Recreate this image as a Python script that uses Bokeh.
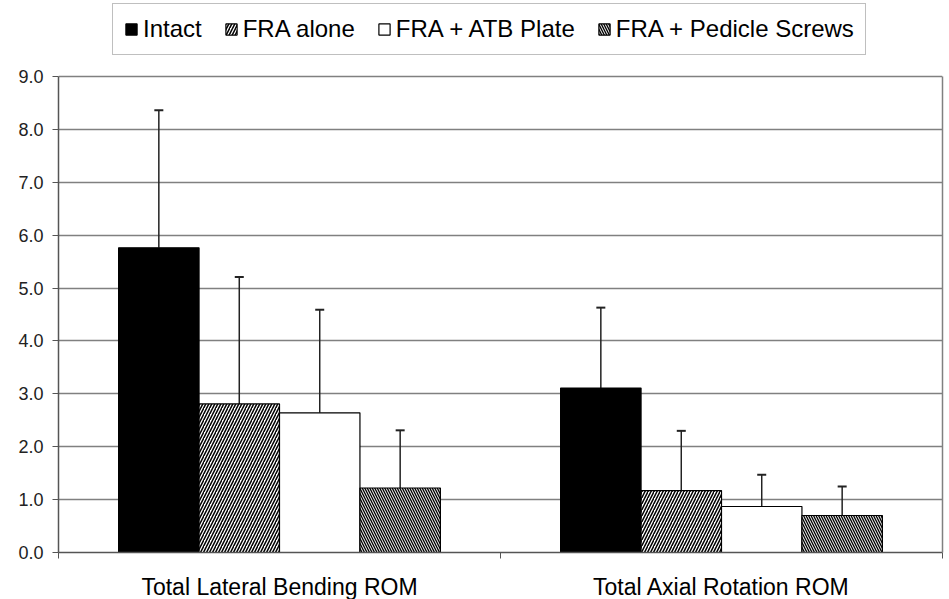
from bokeh.plotting import figure
from bokeh.models import (ColumnDataSource, Range1d, FixedTicker, LinearAxis,
                          NumeralTickFormatter, Whisker, TeeHead, Legend, LegendItem)
from bokeh.transform import dodge
from bokeh.embed import file_html
from bokeh.resources import INLINE

# ---- data ----
categories = ["Total Lateral Bending ROM", "Total Axial Rotation ROM"]
series = ["Intact", "FRA alone", "FRA + ATB Plate", "FRA + Pedicle Screws"]
intact = [5.76, 3.11]
intact_sd = [2.60, 1.52]
fra_alone = [2.81, 1.17]
fra_alone_sd = [2.40, 1.13]
fra_atb = [2.64, 0.87]
fra_atb_sd = [1.95, 0.60]
fra_pedicle = [1.22, 0.70]
fra_pedicle_sd = [1.09, 0.55]
y_ticks = [0, 1, 2, 3, 4, 5, 6, 7, 8, 9]
y_max = 9

values = [intact, fra_alone, fra_atb, fra_pedicle]
sds = [intact_sd, fra_alone_sd, fra_atb_sd, fra_pedicle_sd]

FONT = "Liberation Sans"

centers = [i + 0.5 for i in range(len(categories))]
data = {"x": centers}
for k, (v, s) in enumerate(zip(values, sds)):
    data[f"v{k}"] = v
    data[f"u{k}"] = [a + b for a, b in zip(v, s)]
source = ColumnDataSource(data)

# the frame reaches the top of the page; the value axis occupies its lower 476 px
FRAME_H = 552
AXIS_H = 476
p = figure(output_backend="svg", toolbar_location=None,
           x_range=Range1d(0, len(categories)), y_range=Range1d(0, y_max * FRAME_H / AXIS_H),
           frame_width=884, frame_height=FRAME_H,
           min_border_left=58, min_border_right=2, min_border_top=0, min_border_bottom=46)

bar_w = 0.182
offsets = [-1.5 * bar_w, -0.5 * bar_w, 0.5 * bar_w, 1.5 * bar_w]
styles = [
    dict(fill_color="black"),
    dict(fill_color="white", hatch_pattern="right_diagonal_line", hatch_color="black",
         hatch_scale=6, hatch_weight=1.5),
    dict(fill_color="white"),
    dict(fill_color="black", hatch_pattern="left_diagonal_line", hatch_color="white",
         hatch_scale=5, hatch_weight=1.0),
]

renderers = []
for k in range(4):
    r = p.vbar(x=dodge("x", offsets[k], range=p.x_range), top=f"v{k}", width=bar_w,
               source=source, line_color="black", line_width=1.2, **styles[k])
    renderers.append(r)
    w = Whisker(base=dodge("x", offsets[k], range=p.x_range), lower=f"v{k}", upper=f"u{k}",
                source=source, line_color="#222222", line_width=1.5,
                upper_head=TeeHead(size=9, line_color="#222222", line_width=2), lower_head=None)
    p.add_layout(w)

# axes
p.yaxis.bounds = (0, y_max)
p.yaxis.ticker = FixedTicker(ticks=y_ticks)
p.yaxis.formatter = NumeralTickFormatter(format="0.0")
p.yaxis.major_label_text_font = FONT
p.yaxis.major_label_text_font_size = "18px"
p.yaxis.major_label_text_color = "#222222"
p.yaxis.major_tick_out = 6
p.yaxis.major_tick_in = 0
p.yaxis.minor_tick_out = 0
p.yaxis.minor_tick_in = 0
p.yaxis.major_label_standoff = 9
p.yaxis.axis_line_color = "#555555"
p.yaxis.major_tick_line_color = "#555555"
p.yaxis.axis_line_width = 1.5

right = LinearAxis(bounds=(0, y_max), ticker=FixedTicker(ticks=[]),
                   major_label_text_font_size="0px", major_tick_out=0, major_tick_in=0,
                   minor_tick_out=0, minor_tick_in=0, major_label_standoff=0,
                   axis_line_color="#808080", axis_line_width=1.5)
p.add_layout(right, "right")

p.xaxis.ticker = FixedTicker(ticks=centers, minor_ticks=list(range(len(categories) + 1)))
p.xaxis.major_label_overrides = {c: name for c, name in zip(centers, categories)}
p.xaxis.major_label_text_font = FONT
p.xaxis.major_label_text_font_size = "23px"
p.xaxis.major_label_text_color = "black"
p.xaxis.major_tick_out = 0
p.xaxis.major_tick_in = 0
p.xaxis.minor_tick_out = 6
p.xaxis.minor_tick_in = 0
p.xaxis.minor_tick_line_color = "#555555"
p.xaxis.major_label_standoff = 15
p.xaxis.axis_line_color = "#555555"
p.xaxis.axis_line_width = 1.5

p.xgrid.grid_line_color = None
p.ygrid.ticker = FixedTicker(ticks=y_ticks)
p.ygrid.grid_line_color = "#808080"
p.ygrid.grid_line_width = 1.5
p.outline_line_color = None

legend = Legend(items=[LegendItem(label=s, renderers=[r]) for s, r in zip(series, renderers)],
                orientation="horizontal", location=(54, FRAME_H - 8 - 47),
                label_text_font=FONT, label_text_font_size="24px", label_text_color="black",
                glyph_width=14, glyph_height=14, label_standoff=5, spacing=22,
                padding=11, margin=0, border_line_color="#808080", border_line_width=1.5,
                background_fill_color="white", background_fill_alpha=1.0)
p.add_layout(legend, "center")

p.background_fill_color = "white"
p.border_fill_color = "white"

open("out.html", "w").write(file_html(p, INLINE))
